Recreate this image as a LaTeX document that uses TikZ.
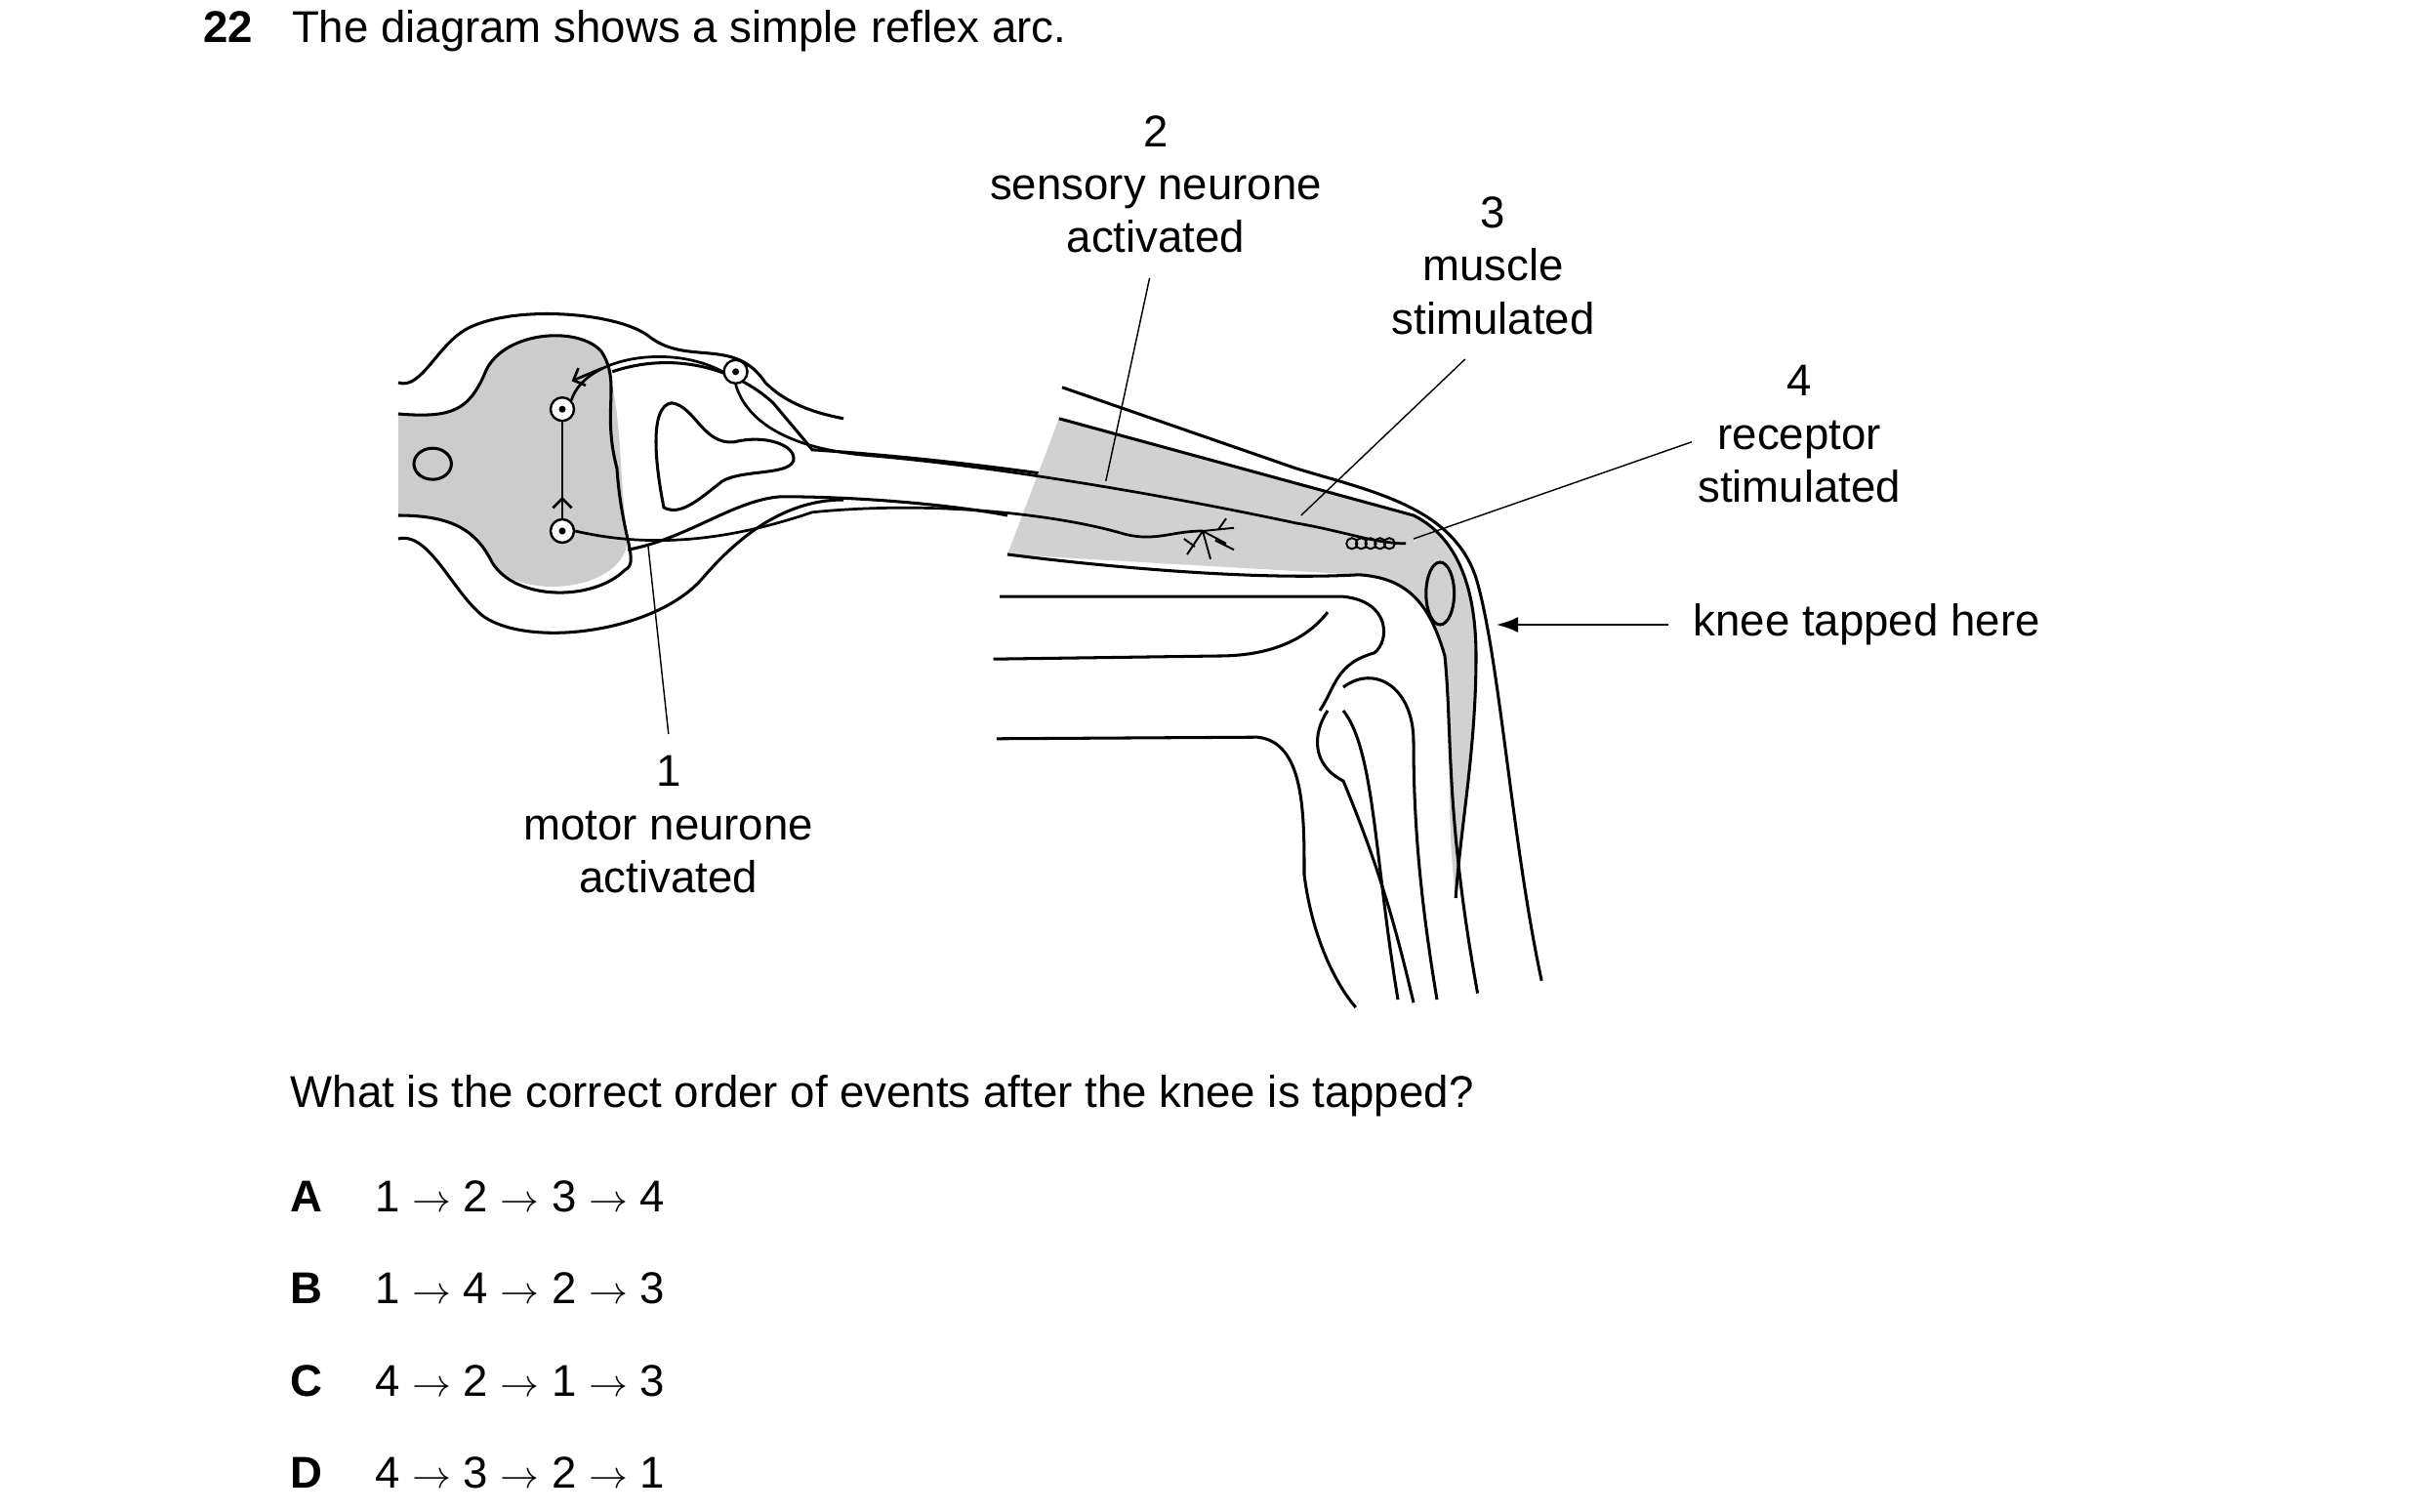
\documentclass[tikz,border=0pt]{standalone}
\usepackage{fontspec}
\setmainfont{Liberation Sans}
\usetikzlibrary{arrows.meta}
\tikzset{
  lbl/.style={align=center, font=\fontsize{28.5}{34}\selectfont, inner sep=2pt},
  body/.style={line width=1.9pt},
  nerve/.style={line width=1.7pt},
  lead/.style={line width=0.9pt},
  cell/.style={circle, draw, line width=1.5pt, fill=white, minimum size=15pt, inner sep=0pt},
}
\begin{document}
\begin{tikzpicture}[x=1pt, y=-1pt]
  \useasboundingbox (0,0) rectangle (1550,968);
  % question text
  \node[lbl, anchor=west] (q) at (128,20) {\textbf{22}\hspace{0.6em} The diagram shows a simple reflex arc.};
  % spinal cord grey matter and inner outline
  \fill[black!20] (255,265) .. controls (290,268) and (300,262) .. (310,240) .. controls (320,212) and (370,208) .. (385,225)
    .. controls (400,260) and (395,300) .. (402,345) .. controls (400,380) and (330,385) .. (315,360)
    .. controls (305,340) and (290,330) .. (255,330) -- cycle;
  \draw[body] (255,265) .. controls (290,268) and (300,262) .. (310,240) .. controls (320,212) and (370,208) .. (385,225)
    .. controls (398,245) and (385,262) .. (395,300) .. controls (398,345) and (410,360) .. (400,365)
    .. controls (380,385) and (330,385) .. (315,360) .. controls (305,340) and (290,330) .. (255,330);
  \draw[body] (277,297) ellipse (12 and 10);
  % outer outline of cord and nerve
  \draw[body] (255,245) .. controls (270,250) and (280,220) .. (300,210) .. controls (330,195) and (395,200) .. (415,215)
    .. controls (440,235) and (470,215) .. (490,245) .. controls (505,260) and (525,265) .. (540,268);
  \draw[body] (255,345) .. controls (275,340) and (290,380) .. (310,395) .. controls (340,415) and (420,405) .. (450,370)
    .. controls (480,335) and (510,320) .. (540,320);
  % inner white root outline
  \draw[body] (392,238) .. controls (430,225) and (470,235) .. (495,258) .. controls (505,270) and (512,278) .. (520,288)
    .. controls (580,292) and (630,298) .. (680,305);
  \draw[body] (402,352) .. controls (440,345) and (470,320) .. (500,318) .. controls (560,318) and (620,325) .. (645,330);
  \draw[body] (425,325) .. controls (420,300) and (415,260) .. (430,258) .. controls (445,260) and (450,285) .. (470,283)
    .. controls (490,278) and (510,285) .. (508,295) .. controls (505,305) and (470,300) .. (460,310)
    .. controls (445,322) and (435,330) .. (425,325) -- cycle;
  % thigh muscle (shaded) and leg outline
  \fill[black!18] (678,268) -- (905,330) .. controls (935,345) and (945,380) .. (945,420)
    .. controls (945,480) and (935,530) .. (932,575) .. controls (925,520) and (930,460) .. (925,420)
    .. controls (915,385) and (900,370) .. (870,368) -- (645,355) -- cycle;
  \draw[body] (680,248) -- (830,300) .. controls (880,315) and (930,325) .. (945,370)
    .. controls (960,420) and (968,540) .. (987,628);
  \draw[body] (678,268) -- (905,330) .. controls (935,345) and (945,380) .. (945,420)
    .. controls (945,480) and (935,530) .. (932,575);
  \draw[body] (645,355) .. controls (700,362) and (800,372) .. (870,368) .. controls (900,370) and (915,385) .. (925,420)
    .. controls (930,470) and (925,520) .. (946,636);
  \draw[body] (922,380) ellipse (9 and 20);
  % femur and tibia
  \draw[body] (640,382) -- (860,382) .. controls (890,385) and (890,410) .. (880,418) .. controls (855,425) and (855,440) .. (845,455);
  \draw[body] (636,422) -- (780,420) .. controls (820,420) and (840,405) .. (850,392);
  \draw[body] (860,440) .. controls (880,425) and (905,440) .. (905,475) .. controls (905,530) and (910,580) .. (920,640);
  \draw[body] (850,455) .. controls (840,470) and (840,490) .. (860,500) .. controls (885,560) and (895,600) .. (905,642);
  \draw[body] (860,455) .. controls (880,480) and (880,550) .. (895,640);
  \draw[body] (638,473) -- (805,472) .. controls (835,475) and (835,520) .. (835,560) .. controls (840,600) and (855,630) .. (868,645);
  % neurones
  \node[cell] (cA) at (360,262) {};
  \node[cell] (cB) at (360,340) {};
  \node[cell] (cG) at (471,238) {};
  \fill (cA) circle (2.2pt); \fill (cB) circle (2.2pt); \fill (cG) circle (2.2pt);
  \draw[nerve] (cA) -- (cB);
  \draw[nerve, -{Straight Barb[length=6pt]}] (cB) -- ++(0,-22);
  \draw[nerve] (cA.north east) .. controls (375,228) and (430,220) .. (cG.west);
  \draw[nerve, -{Straight Barb[length=6pt]}] (385,236) -- (366,244);
  \draw[nerve] (cG.south) .. controls (478,270) and (505,288) .. (560,292)
    .. controls (650,300) and (760,320) .. (830,335) .. controls (860,340) and (880,348) .. (900,348);
  \draw[nerve] (cB.east) .. controls (420,352) and (470,345) .. (520,328)
    .. controls (600,320) and (680,330) .. (720,342) .. controls (740,347) and (750,340) .. (770,340);
  \draw[line width=1.2pt] (770,340) -- (790,338) (770,340) -- (785,348) (770,340) -- (760,355) (770,340) -- (775,358)
    (780,339) -- (785,332) (778,346) -- (790,352) (765,350) -- (758,345);
  \draw[line width=1.2pt] (862,348) foreach \k in {0,...,4} {arc (180:-180:3.5) ++(6,0)};
  % leader anchors
  \coordinate (rec) at (905,345);
  \coordinate (mus) at (833,330);
  \coordinate (sen) at (708,308);
  \coordinate (mot) at (415,350);
  % labels
  \node[lbl] (l2) at (740,118) {2\\sensory neurone\\activated};
  \node[lbl] (l3) at (956,170) {3\\muscle\\stimulated};
  \node[lbl] (l4) at (1152,278) {4\\receptor\\stimulated};
  \node[lbl] (l1) at (428,528) {1\\motor neurone\\activated};
  \node[lbl, anchor=west] (kn) at (1082,400) {knee tapped here};
  \draw[lead] (736,178) -- (sen);
  \draw[lead] (938,230) -- (mus);
  \draw[lead] (1083,283) -- (rec);
  \draw[lead] (428,470) -- (mot);
  \draw[line width=1.5pt, -{Latex[length=14pt, width=10pt]}] (1068,400) -- (958,400);
  % question and options
  \node[lbl, anchor=west] (ask) at (184,702) {What is the correct order of events after the knee is tapped?};
  \foreach \opt/\seq [count=\n] in {A/1 $\to$ 2 $\to$ 3 $\to$ 4, B/1 $\to$ 4 $\to$ 2 $\to$ 3, C/4 $\to$ 2 $\to$ 1 $\to$ 3, D/4 $\to$ 3 $\to$ 2 $\to$ 1} {
    \node[lbl, anchor=west] (o\n) at (184,707+59*\n) {\textbf{\opt}};
    \node[lbl, anchor=west] (s\n) at (238,707+59*\n) {\seq};
  }
\end{tikzpicture}
\end{document}
